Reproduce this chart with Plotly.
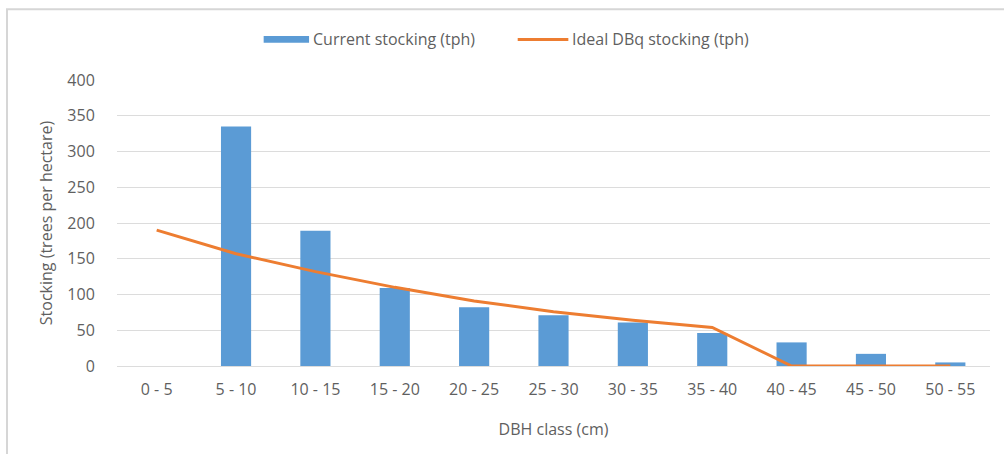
import plotly.graph_objects as go

# DBH classes (cm)
dbh_classes = ["0 - 5", "5 - 10", "10 - 15", "15 - 20", "20 - 25", "25 - 30",
               "30 - 35", "35 - 40", "40 - 45", "45 - 50", "50 - 55"]

# Stocking in trees per hectare
current_stocking = [0, 335, 189, 109, 82, 71, 61, 46, 33, 17, 5]
ideal_dbq_stocking = [190, 157, 132, 110, 91, 76, 64, 54, 0, 0, 0]

y_ticks = [0, 50, 100, 150, 200, 250, 300, 350, 400]

CURRENT_NAME = "Current stocking (tph)"
IDEAL_NAME = "Ideal DBq stocking (tph)"

FONT = "'Open Sans', Lato, sans-serif"
TEXT_GREY = "#5f5f5f"
GRID = "#dcdcdc"
BLUE = "#5b9bd5"
ORANGE = "#ed7d31"

fig = go.Figure()

fig.add_trace(go.Bar(
    x=dbh_classes,
    y=current_stocking,
    name=CURRENT_NAME,
    marker=dict(color=BLUE, line=dict(width=0)),
))

fig.add_trace(go.Scatter(
    x=dbh_classes,
    y=ideal_dbq_stocking,
    name=IDEAL_NAME,
    mode="lines",
    line=dict(color=ORANGE, width=3),
))

# Legend drawn by hand so the keys can be wide, Excel-style swatches
legend_y = 1.142
legend_shapes = [
    dict(type="rect", xref="paper", yref="paper",
         x0=0.168, x1=0.220, y0=legend_y - 0.012, y1=legend_y + 0.012,
         fillcolor=BLUE, line=dict(width=0)),
    dict(type="line", xref="paper", yref="paper",
         x0=0.459, x1=0.517, y0=legend_y, y1=legend_y,
         line=dict(color=ORANGE, width=3)),
]
legend_labels = [
    dict(text=CURRENT_NAME, xref="paper", yref="paper", x=0.222, y=legend_y,
         xanchor="left", yanchor="middle", showarrow=False,
         font=dict(family=FONT, size=16, color=TEXT_GREY)),
    dict(text=IDEAL_NAME, xref="paper", yref="paper", x=0.519, y=legend_y,
         xanchor="left", yanchor="middle", showarrow=False,
         font=dict(family=FONT, size=16, color=TEXT_GREY)),
]

# Light outer frame of the chart area
frame = dict(
    type="rect", xref="paper", yref="paper",
    x0=-0.126, x1=1.2, y0=-0.5, y1=1.247,
    line=dict(color="#d6d6d6", width=2),
    fillcolor="rgba(0,0,0,0)",
    layer="below",
)

fig.update_layout(
    width=1004,
    height=454,
    margin=dict(l=117, r=14, t=80, b=88),
    paper_bgcolor="white",
    plot_bgcolor="white",
    bargap=0.62,
    font=dict(family=FONT, size=16, color=TEXT_GREY),
    showlegend=False,
    xaxis=dict(
        type="category",
        showgrid=False,
        showline=True,
        linecolor=GRID,
        linewidth=1,
        ticks="outside",
        ticklen=9,
        tickcolor="rgba(0,0,0,0)",
        tickfont=dict(family=FONT, size=16, color=TEXT_GREY),
        title=dict(text="DBH class (cm)", font=dict(family=FONT, size=16, color=TEXT_GREY), standoff=24),
    ),
    yaxis=dict(
        range=[0, 400],
        tickvals=y_ticks,
        showgrid=True,
        gridcolor=GRID,
        gridwidth=1,
        zeroline=False,
        showline=False,
        ticks="outside",
        ticklen=18,
        tickcolor="rgba(0,0,0,0)",
        tickfont=dict(family=FONT, size=16, color=TEXT_GREY),
        title=dict(text="Stocking (trees per hectare)", font=dict(family=FONT, size=16, color=TEXT_GREY), standoff=10),
    ),
    shapes=[frame] + legend_shapes,
    annotations=legend_labels,
)

fig.write_html("out.html")
